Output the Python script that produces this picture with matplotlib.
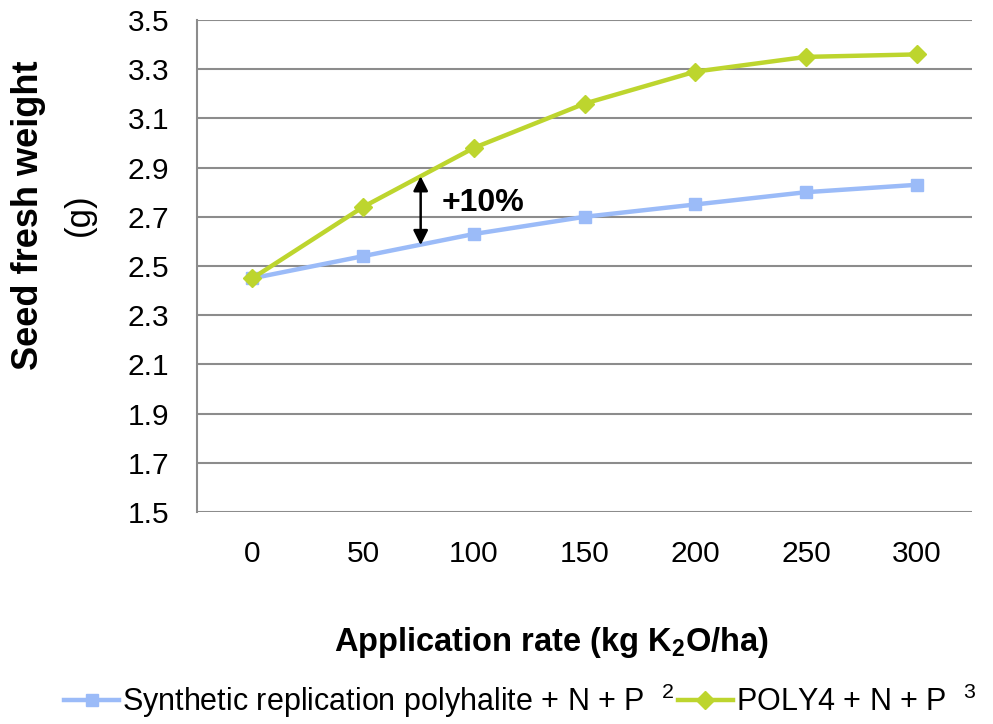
import numpy as np
import matplotlib
matplotlib.use("Agg")
import matplotlib.pyplot as plt

plt.rcParams['font.family'] = ['Liberation Sans', 'DejaVu Sans']
plt.rcParams['mathtext.fontset'] = 'custom'
plt.rcParams['mathtext.rm'] = 'Liberation Sans'
plt.rcParams['mathtext.bf'] = 'Liberation Sans:bold'

# application rates (kg K2O/ha)
rates = ['0', '50', '100', '150', '200', '250', '300']
synthetic = [2.45, 2.54, 2.63, 2.70, 2.75, 2.80, 2.83]
poly4 = [2.45, 2.74, 2.98, 3.16, 3.29, 3.35, 3.36]
y_ticks = [1.5, 1.7, 1.9, 2.1, 2.3, 2.5, 2.7, 2.9, 3.1, 3.3, 3.5]

blue = '#9BBBF8'
green = '#BDD52E'
grid_gray = '#8C8C8C'

fig = plt.figure(figsize=(9.93, 7.24), dpi=100)
ax = fig.add_axes([0.1984, 0.2928, 0.7805, 0.6796])

xpos = np.arange(len(rates))
ax.plot(xpos, synthetic, color=blue, lw=3.2, marker='s', markersize=8,
        label='Synthetic replication polyhalite + N + P  $^{2}$')
ax.plot(xpos, poly4, color=green, lw=3.2, marker='D', markersize=9,
        label='POLY4 + N + P  $^{3}$')

ax.set_xlim(-0.5, len(rates) - 0.5)
ax.set_ylim(1.5, 3.5)
ax.set_xticks(xpos)
ax.set_xticklabels(rates)
ax.set_yticks(y_ticks)
ax.set_yticklabels([f'{v:.1f}' for v in y_ticks])
ax.tick_params(axis='both', length=0, labelsize=21.5)
ax.tick_params(axis='y', pad=20)
ax.tick_params(axis='x', pad=20)

ax.yaxis.grid(True, color=grid_gray, lw=1.5)
ax.set_axisbelow(True)
for s in ['top', 'right', 'bottom']:
    ax.spines[s].set_visible(False)
ax.spines['left'].set_color(grid_gray)
ax.spines['left'].set_linewidth(1.5)

# +10% difference marker
ax.annotate('', xy=(1.52, 2.865), xytext=(1.52, 2.585),
            arrowprops=dict(arrowstyle='<|-|>', color='black', lw=1.8,
                            mutation_scale=22, shrinkA=0, shrinkB=0))
ax.text(1.71, 2.757, '+10%', fontsize=23, fontweight='bold', va='center', ha='left')

# axis titles
fig.text(0.029, 0.703, 'Seed fresh weight', rotation=90, fontsize=26,
         fontweight='bold', ha='center', va='center')
fig.text(0.080, 0.703, '(g)', rotation=90, fontsize=25, ha='center', va='center')
fig.text(0.555, 0.112, r'Application rate (kg K$_\mathbf{2}$O/ha)', fontsize=23.5,
         fontweight='bold', ha='center', va='center')

fig.legend(loc='center', bbox_to_anchor=(0.524, 0.032), ncol=2, frameon=False,
           fontsize=22, handlelength=1.8, handletextpad=0.1, columnspacing=0.1,
           borderaxespad=0, borderpad=0)

fig.savefig('out.png', dpi=100)
